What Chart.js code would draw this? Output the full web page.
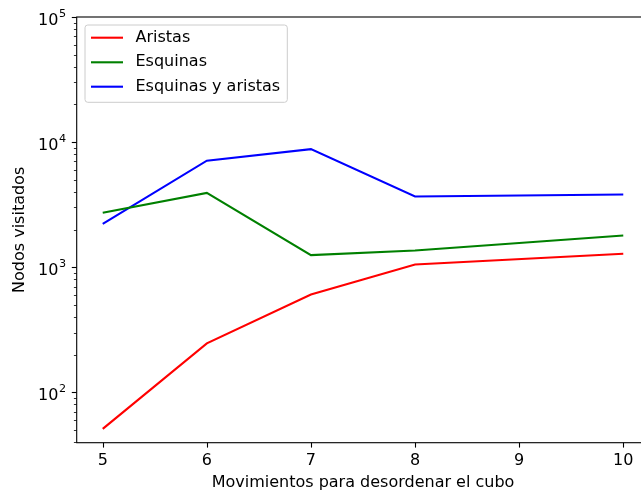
<!DOCTYPE html>
<html>
<head>
<meta charset="utf-8">
<script src="https://cdn.jsdelivr.net/npm/chart.js@4"></script>
<style>
  html, body { margin: 0; padding: 0; background: #fff; overflow: hidden; }
  #wrap { position: absolute; left: 0; top: 0; width: 700px; height: 493px; }
</style>
</head>
<body>
<div id="wrap"><canvas id="chart" width="700" height="493"></canvas></div>
<script>
// Data
const moves = [5, 6, 7, 8, 10];
const aristas = [51, 246, 605, 1050, 1280];
const esquinas = [2720, 3920, 1247, 1360, 1790];
const esquinasAristas = [2220, 7100, 8790, 3670, 3810];

const xTicks = [5, 6, 7, 8, 9, 10];
const yMin = 39.5;
const yMax = 100000;

const FONT = "'DejaVu Sans', sans-serif";
const FS = 16;

function logTicks() {
    const out = [];
    for (let e = 1; e <= 4; e++) {
        for (let m = 1; m <= 9; m++) {
            const v = m * Math.pow(10, e);
            if (v >= yMin && v <= yMax) out.push({ value: v, major: m === 1 });
        }
    }
    out.push({ value: yMax, major: true });
    return out;
}

// Axes frame, tick marks, 10^n labels and the legend box drawn in matplotlib fashion
const framePlugin = {
    id: 'frame',
    afterDraw(chart) {
        const ctx = chart.ctx;
        const a = chart.chartArea;
        const xs = chart.scales.x, ys = chart.scales.y;
        ctx.save();
        ctx.strokeStyle = '#000';
        ctx.lineWidth = 1.1;
        ctx.strokeRect(a.left, a.top, a.right - a.left, a.bottom - a.top);

        // x ticks
        xs.ticks.forEach(t => {
            const px = Math.round(xs.getPixelForValue(t.value)) + 0.5;
            ctx.beginPath();
            ctx.moveTo(px, a.bottom);
            ctx.lineTo(px, a.bottom + 4.9);
            ctx.stroke();
        });
        // y ticks and labels with raised exponent
        ys.ticks.forEach(t => {
            const py = Math.round(ys.getPixelForValue(t.value)) + 0.5;
            ctx.strokeStyle = '#000';
            ctx.lineWidth = t.major ? 1.1 : 0.8;
            ctx.beginPath();
            ctx.moveTo(a.left, py);
            ctx.lineTo(a.left - (t.major ? 4.9 : 2.8), py);
            ctx.stroke();
            if (t.major) {
                const exp = String(Math.round(Math.log10(t.value)));
                ctx.fillStyle = '#000';
                ctx.textBaseline = 'alphabetic';
                ctx.textAlign = 'right';
                ctx.font = (FS * 0.7) + 'px ' + FONT;
                const right = a.left - 10.7;
                ctx.fillText(exp, right, py - 1);
                const ew = ctx.measureText(exp).width;
                ctx.font = FS + 'px ' + FONT;
                ctx.fillText('10', right - ew - 0.5, py + 7.3);
            }
        });

        // legend
        const bx = 85, by = 25, bw = 202.3, bh = 77.3, r = 2.8;
        ctx.beginPath();
        ctx.moveTo(bx + r, by);
        ctx.arcTo(bx + bw, by, bx + bw, by + bh, r);
        ctx.arcTo(bx + bw, by + bh, bx, by + bh, r);
        ctx.arcTo(bx, by + bh, bx, by, r);
        ctx.arcTo(bx, by, bx + bw, by, r);
        ctx.closePath();
        ctx.fillStyle = 'rgba(255,255,255,0.8)';
        ctx.fill();
        ctx.strokeStyle = '#cccccc';
        ctx.lineWidth = 1;
        ctx.stroke();

        const rows = [37.7, 62.3, 86.7];
        ctx.font = FS + 'px ' + FONT;
        ctx.textBaseline = 'middle';
        ctx.textAlign = 'left';
        chart.data.datasets.forEach((ds, i) => {
            ctx.strokeStyle = ds.borderColor;
            ctx.lineWidth = 2.1;
            ctx.beginPath();
            ctx.moveTo(91, rows[i]);
            ctx.lineTo(123, rows[i]);
            ctx.stroke();
            ctx.fillStyle = '#000';
            ctx.fillText(ds.label, 135.5, rows[i]);
        });
        ctx.restore();
    }
};

const ctx = document.getElementById('chart').getContext('2d');
const chart = new Chart(ctx, {
    type: 'line',
    data: {
        datasets: [
            {
                label: 'Aristas',
                data: moves.map((m, i) => ({ x: m, y: aristas[i] })),
                borderColor: '#ff0000'
            },
            {
                label: 'Esquinas',
                data: moves.map((m, i) => ({ x: m, y: esquinas[i] })),
                borderColor: '#008000'
            },
            {
                label: 'Esquinas y aristas',
                data: moves.map((m, i) => ({ x: m, y: esquinasAristas[i] })),
                borderColor: '#0000ff'
            }
        ]
    },
    options: {
        responsive: false,
        animation: false,
        devicePixelRatio: 1,
        elements: {
            line: { borderWidth: 2.1, tension: 0, fill: false },
            point: { radius: 0, hoverRadius: 0 }
        },
        layout: { padding: { left: 0, top: 17, right: 50.7, bottom: 0 } },
        plugins: {
            legend: { display: false },
            tooltip: { enabled: false }
        },
        scales: {
            x: {
                type: 'linear',
                min: 4.75,
                max: 10.25,
                afterBuildTicks: s => { s.ticks = xTicks.map(v => ({ value: v })); },
                afterFit: s => { s.height = 50.3; },
                grid: { display: false, drawTicks: false },
                border: { display: false },
                ticks: {
                    color: '#000',
                    font: { family: FONT, size: FS },
                    padding: 8.5,
                    maxRotation: 0,
                    autoSkip: false
                },
                title: {
                    display: true,
                    text: 'Movimientos para desordenar el cubo',
                    color: '#000',
                    font: { family: FONT, size: FS },
                    padding: { top: 0, bottom: 0.6 }
                }
            },
            y: {
                type: 'logarithmic',
                min: yMin,
                max: yMax,
                afterBuildTicks: s => { s.ticks = logTicks(); },
                afterFit: s => { s.width = 76.7; },
                grid: { display: false, drawTicks: false },
                border: { display: false },
                ticks: {
                    autoSkip: false,
                    callback: () => ''
                },
                title: {
                    display: true,
                    text: 'Nodos visitados',
                    color: '#000',
                    font: { family: FONT, size: FS },
                    padding: { top: 9.9, bottom: 0 }
                }
            }
        }
    },
    plugins: [framePlugin]
});
</script>
</body>
</html>
